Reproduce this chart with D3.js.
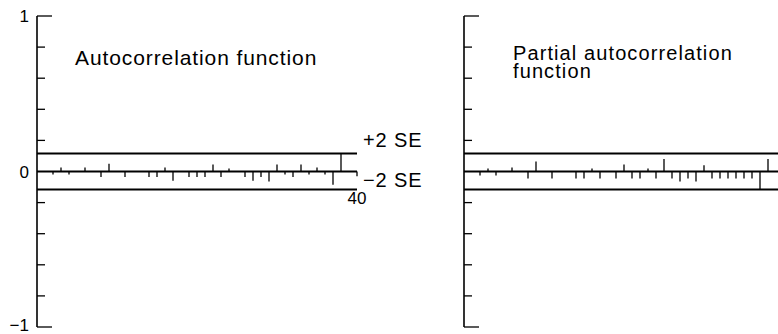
<!DOCTYPE html>
<html lang="en">
<head>
  <meta charset="UTF-8">
  <title>ACF / PACF</title>
  <script src="https://d3js.org/d3.v7.min.js"></script>
  <style>
    body { margin: 0; background: #fff; }
    svg { font-family: "Liberation Sans", Arial, sans-serif; }
    .lbl { font-size: 21px; fill: #000; letter-spacing: 0.9px; }
  </style>
</head>
<body>
  <svg width="778" height="334"></svg>
  <script>
    // lags 1..40
    const lags = d3.range(1, 41);
    const acf = [0, -0.02, 0.025, -0.02, 0, 0.025, 0, -0.035, 0.05, 0,
                 -0.035, 0, 0, -0.035, -0.035, 0.025, -0.06, 0, -0.035, -0.035,
                 -0.035, 0.045, -0.035, 0.02, 0, -0.035, -0.06, -0.035, -0.065, 0.045,
                 -0.02, -0.035, 0.045, -0.02, 0.025, -0.02, -0.085, 0.115, 0, 0];
    const pacf = [0, -0.025, 0.02, -0.025, 0, 0.025, 0, -0.045, 0.065, 0,
                  -0.045, 0, 0, -0.045, -0.045, 0.02, -0.045, 0, -0.045, 0.045,
                  -0.045, -0.045, 0.02, -0.045, 0.08, -0.045, -0.065, -0.045, -0.065, 0.04,
                  -0.045, -0.045, -0.045, -0.045, -0.045, -0.045, -0.115, 0.08, 0, 0];
    const se2 = 0.115;
    const minorTicks = [-0.8, -0.6, -0.4, -0.2, 0.2, 0.4, 0.6, 0.8];
    const majorTicks = [-1, 1];
    const yLabels = [{v: 1, t: '1'}, {v: 0, t: '0'}, {v: -1, t: '\u22121'}];

    const svg = d3.select('svg');
    const y = d3.scaleLinear().domain([-1, 1]).range([327, 16]);

    function panel(values, x0, xEnd) {
      const x = d3.scaleLinear().domain([0, 40]).range([x0, x0 + 320]);
      const g = svg.append('g');

      // vertical axis
      g.append('line')
        .attr('x1', x(0)).attr('x2', x(0))
        .attr('y1', y(1)).attr('y2', y(-1))
        .attr('stroke', '#000').attr('stroke-width', 1.6);
      g.selectAll('.minor').data(minorTicks).enter().append('line')
        .attr('x1', x(0)).attr('x2', x(0) + 8)
        .attr('y1', d => y(d)).attr('y2', d => y(d))
        .attr('stroke', '#000').attr('stroke-width', 1.3);
      g.selectAll('.major').data(majorTicks).enter().append('line')
        .attr('x1', x(0)).attr('x2', x(0) + 15)
        .attr('y1', d => y(d)).attr('y2', d => y(d))
        .attr('stroke', '#000').attr('stroke-width', 1.3);

      // zero line and +-2 SE lines
      g.selectAll('.hline').data([se2, 0, -se2]).enter().append('line')
        .attr('x1', x(0)).attr('x2', Math.min(xEnd, x(40)))
        .attr('y1', d => y(d)).attr('y2', d => y(d))
        .attr('stroke', '#000').attr('stroke-width', 2);

      // correlation bars
      g.selectAll('.bar').data(lags.map((l, i) => ({l, v: values[i]})).filter(d => d.v !== 0))
        .enter().append('line')
        .attr('x1', d => x(d.l)).attr('x2', d => x(d.l))
        .attr('y1', y(0)).attr('y2', d => y(d.v))
        .attr('stroke', '#000').attr('stroke-width', 1.3);

      return {g, x};
    }

    const left = panel(acf, 37, 778);
    const right = panel(pacf, 464, 778);

    // lag 40 tick on left panel
    left.g.append('line')
      .attr('x1', left.x(40)).attr('x2', left.x(40))
      .attr('y1', y(0)).attr('y2', y(-0.03))
      .attr('stroke', '#000').attr('stroke-width', 1.3);

    svg.selectAll('.ylab').data(yLabels).enter().append('text')
      .attr('class', 'lbl')
      .attr('x', 29).attr('y', d => y(d.v)).attr('dy', d => d.v === -1 ? '0.25em' : '0.36em')
      .attr('text-anchor', 'end')
      .style('font-size', '17px').style('letter-spacing', '0px')
      .text(d => d.t);

    svg.append('text').attr('class', 'lbl').attr('x', 75).attr('y', 65)
      .text('Autocorrelation function');
    svg.append('text').attr('class', 'lbl').attr('x', 513).attr('y', 60)
      .style('font-size', '20px').style('letter-spacing', '1.1px')
      .text('Partial autocorrelation');
    svg.append('text').attr('class', 'lbl').attr('x', 513).attr('y', 78)
      .style('font-size', '20px').style('letter-spacing', '1.1px')
      .text('function');

    svg.append('text').attr('class', 'lbl').attr('x', 363).attr('y', 147)
      .style('font-size', '20px')
      .text('+2 SE');
    svg.append('text').attr('class', 'lbl').attr('x', 363).attr('y', 187)
      .style('font-size', '20px')
      .text('\u22122 SE');
    svg.append('text').attr('class', 'lbl').attr('x', left.x(40)).attr('y', 204)
      .attr('text-anchor', 'middle').style('font-size', '17px').style('letter-spacing', '0px')
      .text('40');
  </script>
</body>
</html>
